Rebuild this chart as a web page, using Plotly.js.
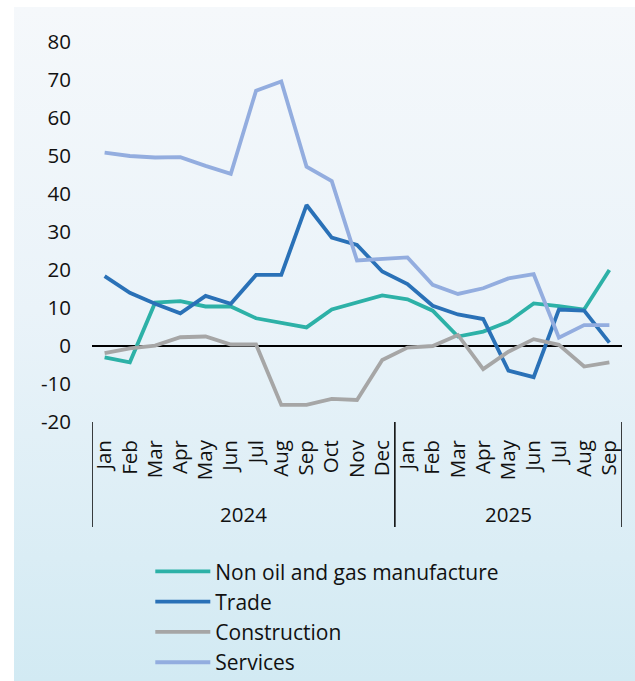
<!DOCTYPE html>
<html>
<head>
<meta charset="utf-8">
<script src="https://cdn.plot.ly/plotly-3.0.1.min.js"></script>
<style>
  html, body { margin: 0; padding: 0; background: #ffffff; }
  #bg { position: absolute; left: 14px; top: 7px; width: 621px; height: 674px;
        background: linear-gradient(to bottom, #f5f8fb 0%, #eaf3f9 45%, #d2eaf3 100%); }
  #chart { position: absolute; left: 0; top: 0; width: 635px; height: 681px; }
</style>
</head>
<body>
<div id="bg"></div>
<div id="chart"></div>
<script>
const years = ['2024','2024','2024','2024','2024','2024','2024','2024','2024','2024','2024','2024',
               '2025','2025','2025','2025','2025','2025','2025','2025','2025'];
const months = ['Jan','Feb','Mar','Apr','May','Jun','Jul','Aug','Sep','Oct','Nov','Dec',
                'Jan','Feb','Mar','Apr','May','Jun','Jul','Aug','Sep'];

const manufacture = [-3.0, -4.3, 11.4, 11.8, 10.4, 10.4, 7.3, 6.2, 4.9, 9.6, 11.4, 13.3,
                     12.3, 9.3, 2.5, 3.8, 6.4, 11.2, 10.5, 9.6, 20.0];
const trade = [18.4, 14.0, 11.1, 8.6, 13.2, 11.1, 18.7, 18.7, 37.1, 28.5, 26.6, 19.6,
               16.3, 10.6, 8.3, 7.1, -6.5, -8.2, 9.6, 9.3, 0.9];
const construction = [-1.9, -0.6, 0.1, 2.3, 2.5, 0.4, 0.4, -15.5, -15.5, -13.9, -14.2, -3.7,
                      -0.4, 0.0, 2.9, -6.1, -1.5, 1.8, 0.3, -5.4, -4.3];
const services = [50.9, 50.0, 49.6, 49.7, 47.4, 45.3, 67.2, 69.6, 47.2, 43.4, 22.5, 23.0,
                  23.3, 16.1, 13.7, 15.2, 17.8, 18.9, 2.2, 5.5, 5.5];

const yTickVals = [-20, -10, 0, 10, 20, 30, 40, 50, 60, 70, 80];
const yTickText = ['-20', '-10', '0', '10', '20', '30', '40', '50', '60', '70', '80'];

const seriesNames = ['Non oil and gas manufacture', 'Trade', 'Construction', 'Services'];
const seriesData = [manufacture, trade, construction, services];
const seriesColors = ['#2db1a7', '#2a71b7', '#a6a6a6', '#93addf'];

// unique category keys (year + month), shown with month-only tick text
const catKeys = months.map((m, i) => years[i] + ' ' + m);

const traces = seriesData.map((vals, i) => ({
  type: 'scatter',
  mode: 'lines',
  name: seriesNames[i],
  x: catKeys,
  y: vals,
  line: { color: seriesColors[i], width: 3.8 }
}));

// year groups: dividers at group edges, year label centred in each group
const nCat = months.length;
const groups = [];
years.forEach((y, i) => {
  if (!groups.length || groups[groups.length - 1].year !== y) groups.push({ year: y, start: i, end: i });
  else groups[groups.length - 1].end = i;
});

const dividerShapes = [];
groups.forEach((g, k) => {
  if (k === 0) dividerShapes.push({ type: 'line', xref: 'x', yref: 'paper',
    x0: g.start - 0.5, x1: g.start - 0.5, y0: 0, y1: -0.276, line: { color: '#000000', width: 1.5 } });
  dividerShapes.push({ type: 'line', xref: 'x', yref: 'paper',
    x0: g.end + 0.5, x1: g.end + 0.5, y0: 0, y1: -0.276, line: { color: '#000000', width: 1.5 } });
});

const yearAnnotations = groups.map(g => ({
  xref: 'x', yref: 'paper',
  x: (g.start + g.end) / 2, y: -0.242,
  xanchor: 'center', yanchor: 'middle',
  text: g.year, showarrow: false,
  font: { size: 20.5, color: '#111111' }
}));

const layout = {
  width: 635,
  height: 681,
  paper_bgcolor: 'rgba(0,0,0,0)',
  plot_bgcolor: 'rgba(0,0,0,0)',
  font: { family: '"Open Sans", "Noto Sans", sans-serif', size: 20.5, color: '#111111' },
  margin: { l: 92, r: 13, t: 42, b: 259, autoexpand: false },
  showlegend: true,
  legend: {
    orientation: 'v',
    x: 0.11, xanchor: 'left',
    y: -0.34, yanchor: 'top',
    bgcolor: 'rgba(0,0,0,0)',
    font: { size: 21, color: '#111111' },
    itemwidth: 55,
    tracegroupgap: 0
  },
  xaxis: {
    type: 'category',
    range: [-0.5, nCat - 0.5],
    tickmode: 'array',
    tickvals: catKeys,
    ticktext: months,
    tickangle: -90,
    showgrid: false,
    showline: false,
    zeroline: false,
    ticks: '',
    ticklabelstandoff: 13,
    automargin: false,
    tickfont: { size: 20.5, color: '#111111' }
  },
  yaxis: {
    range: [-20, 80],
    tickmode: 'array',
    tickvals: yTickVals,
    ticktext: yTickText,
    showgrid: false,
    showline: false,
    ticks: '',
    zeroline: true,
    zerolinecolor: '#000000',
    zerolinewidth: 1.5,
    ticklabelstandoff: 20,
    automargin: false,
    tickfont: { size: 20.5, color: '#111111' }
  },
  shapes: dividerShapes,
  annotations: yearAnnotations
};

Plotly.newPlot('chart', traces, layout, { displayModeBar: false, staticPlot: true });
</script>
</body>
</html>
